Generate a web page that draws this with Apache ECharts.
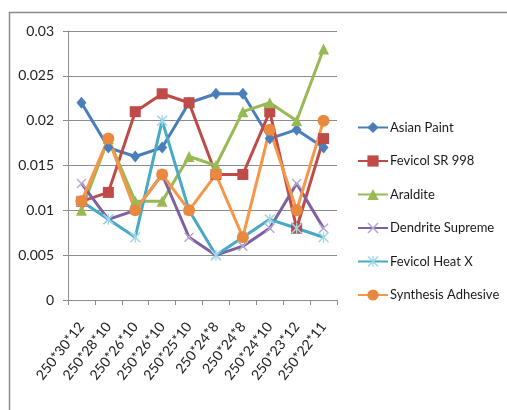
<!DOCTYPE html>
<html><head><meta charset="utf-8">
<script src="https://cdn.jsdelivr.net/npm/echarts@6/dist/echarts.min.js"></script>
<style>html,body{margin:0;padding:0;background:#fff}#c{width:507px;height:410px}</style>
</head><body><div id="c"></div>
<script>
const categories = ['250*30*12','250*28*10','250*26*10','250*26*10','250*25*10','250*24*8','250*24*8','250*24*10','250*23*12','250*22*11'];
const asianPaint = [0.022,0.017,0.016,0.017,0.022,0.023,0.023,0.018,0.019,0.017];
const fevicolSR998 = [0.011,0.012,0.021,0.023,0.022,0.014,0.014,0.021,0.008,0.018];
const araldite = [0.010,0.018,0.011,0.011,0.016,0.015,0.021,0.022,0.020,0.028];
const dendriteSupreme = [0.013,0.009,0.010,0.014,0.007,0.005,0.006,0.008,0.013,0.008];
const fevicolHeatX = [0.011,0.009,0.007,0.020,0.010,0.005,0.007,0.009,0.008,0.007];
const synthesisAdhesive = [0.011,0.018,0.010,0.014,0.010,0.014,0.007,0.019,0.010,0.020];
const yTicks = [0,0.005,0.01,0.015,0.02,0.025,0.03];

const FONT = 'Lato';
const xPath = 'path://M0,1L1,0L5,4L9,0L10,1L6,5L10,9L9,10L5,6L1,10L0,9L4,5Z';
const starPath = 'path://M0,1L1,0L5,4L9,0L10,1L6,5L10,9L9,10L5,6L1,10L0,9L4,5Z M4.4,0L5.6,0L5.6,10L4.4,10Z';

function mk(name, data, color, symbol, size, markerColor) {
  return {
    name, type: 'line', data, symbol, symbolSize: size,
    lineStyle: { color, width: 3 },
    itemStyle: { color: markerColor || color },
    emphasis: { disabled: true }, animation: false
  };
}

const chart = echarts.init(document.getElementById('c'), null, { renderer: 'canvas' });
chart.setOption({
  animation: false,
  backgroundColor: '#fff',
  graphic: [{
    type: 'rect', left: 7, top: 10, shape: { width: 520, height: 420 },
    style: { fill: 'none', stroke: '#8a8a8a', lineWidth: 1.5 }, silent: true, z: 0
  }],
  grid: { left: 68, right: 170, top: 31, bottom: 110, containLabel: false },
  legend: {
    orient: 'vertical', left: 352, top: 116, itemGap: 20.5, itemWidth: 30, itemHeight: 14,
    textStyle: { fontFamily: FONT, fontSize: 13, color: '#1a1a1a', padding: [0,0,0,-3] },
    data: ['Asian Paint','Fevicol SR 998','Araldite','Dendrite Supreme','Fevicol Heat X','Synthesis Adhesive']
  },
  xAxis: {
    type: 'category', data: categories, boundaryGap: true,
    axisLine: { lineStyle: { color: '#8c8c8c', width: 1 } },
    axisTick: { show: true, length: 5, lineStyle: { color: '#8c8c8c' } },
    axisLabel: { rotate: 52, interval: 0, margin: 24, fontFamily: FONT, fontSize: 14, color: '#222' },
    splitLine: { show: false }
  },
  yAxis: {
    type: 'value', min: 0, max: 0.03, interval: 0.005,
    axisLine: { show: true, lineStyle: { color: '#8c8c8c', width: 1 } },
    axisTick: { show: true, length: 5, lineStyle: { color: '#8c8c8c' } },
    axisLabel: { margin: 14, fontFamily: FONT, fontSize: 14, color: '#222',
      formatter: v => { const t = yTicks.find(x => Math.abs(x - v) < 1e-9); return t === undefined ? '' : String(t); } },
    splitLine: { show: true, lineStyle: { color: '#8c8c8c', width: 1 } }
  },
  series: [
    mk('Asian Paint', asianPaint, '#4a7ebb', 'diamond', [10,12]),
    mk('Fevicol SR 998', fevicolSR998, '#be4b48', 'rect', 11),
    mk('Araldite', araldite, '#98b954', 'triangle', 11),
    mk('Dendrite Supreme', dendriteSupreme, '#7d60a0', xPath, 10, '#b7a8d0'),
    mk('Fevicol Heat X', fevicolHeatX, '#46aac5', starPath, 11, '#9fd8e8'),
    mk('Synthesis Adhesive', synthesisAdhesive, '#f79646', 'circle', 12, '#e9893f')
  ]
});
</script></body></html>
